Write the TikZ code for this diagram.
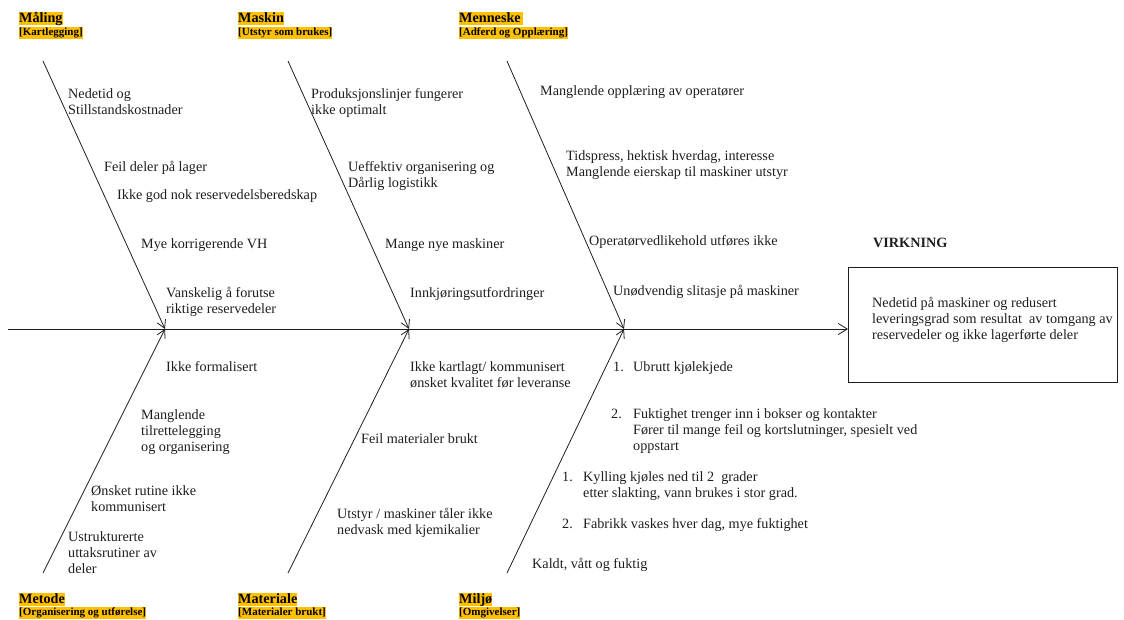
\documentclass[tikz,border=0pt]{standalone}
\usepackage{fontspec}
\setmainfont{Liberation Serif}
\usetikzlibrary{arrows.meta}
\definecolor{hl}{HTML}{FFC000}
\definecolor{ink}{HTML}{1E1E1E}
\tikzset{
  txt/.style={anchor=north west, inner sep=0pt, align=left, text=ink,
              font=\fontsize{14.2}{16.2}\selectfont},
  cat/.style={anchor=north west, inner sep=0pt, fill=hl, text=black,
              font=\fontsize{14.2}{16}\selectfont\bfseries,
              text height=10pt, text depth=3pt},
  sub/.style={anchor=north west, inner sep=0pt, fill=hl, text=black,
              font=\fontsize{11}{12}\selectfont\bfseries,
              text height=8.5pt, text depth=3.3pt},
  bone/.style={draw=ink, line width=0.8pt,
               -{Straight Barb[length=8pt,width=9pt,line width=0.8pt]}},
  effbox/.style={draw=ink, line width=0.8pt, minimum width=269pt,
                 minimum height=115pt, inner sep=0pt}
}
\begin{document}
\begin{tikzpicture}[x=1pt,y=-1pt]
\useasboundingbox (0,0) rectangle (1124,619);

% effect box
\node[effbox, anchor=north west] (eff) at (848,267) {};
\node[txt] (efftxt) at (872,297) {Nedetid på maskiner og redusert\\leveringsgrad som resultat\ \ av tomgang av\\reservedeler og ikke lagerførte deler};
\node[anchor=north west, inner sep=0pt, text=ink,
      font=\fontsize{14.2}{16}\selectfont\bfseries] (virk) at (873,238) {VIRKNING};

% spine
\coordinate (s0) at (8,329);
\coordinate (j1) at (165,329);
\coordinate (j2) at (409,329);
\coordinate (j3) at (624,329);
\draw[bone, -{Straight Barb[length=9pt,width=11pt,line width=0.8pt]}] (s0) -- (s0 -| eff.west);

% bones
\coordinate (tA) at (43,61);
\coordinate (tB) at (288,61);
\coordinate (tC) at (507,61);
\coordinate (bA) at (43,573);
\coordinate (bB) at (288,573);
\coordinate (bC) at (507,573);
\draw[bone] (tA) -- (j1);
\draw[bone] (tB) -- (j2);
\draw[bone] (tC) -- (j3);
\draw[bone] (bA) -- (j1);
\draw[bone] (bB) -- (j2);
\draw[bone] (bC) -- (j3);

% category labels
\node[cat] (maal) at (19,12) {Måling};
\node[sub] (maalS) at (19,27) {[Kartlegging]};
\node[cat] (mask) at (238,12) {Maskin};
\node[sub] (maskS) at (238,27) {[Utstyr som brukes]};
\node[cat] (menn) at (459,12) {Menneske\,};
\node[sub] (mennS) at (459,27) {[Adferd og Opplæring]};
\node[cat] (meto) at (19,593) {Metode};
\node[sub] (metoS) at (19,607) {[Organisering og utførelse]};
\node[cat] (mate) at (238,593) {Materiale};
\node[sub] (mateS) at (238,607) {[Materialer brukt]};
\node[cat] (milj) at (459,593) {Miljø};
\node[sub] (miljS) at (459,607) {[Omgivelser]};

% Måling
\node[txt] (a1) at (68,88) {Nedetid og\\Stillstandskostnader};
\node[txt] (a2) at (104,161) {Feil deler på lager};
\node[txt] (a3) at (117,189) {Ikke god nok reservedelsberedskap};
\node[txt] (a4) at (141,238) {Mye korrigerende VH};
\node[txt] (a5) at (166,287) {Vanskelig å forutse\\riktige reservedeler};

% Metode
\node[txt] (b1) at (166,361) {Ikke formalisert};
\node[txt] (b2) at (141,409) {Manglende\\tilrettelegging\\og organisering};
\node[txt] (b3) at (91,485) {Ønsket rutine ikke\\kommunisert};
\node[txt] (b4) at (68,531) {Ustrukturerte\\uttaksrutiner av\\deler};

% Maskin
\node[txt] (c1) at (311,88) {Produksjonslinjer fungerer\\ikke optimalt};
\node[txt] (c2) at (348,161) {Ueffektiv organisering og\\Dårlig logistikk};
\node[txt] (c3) at (385,238) {Mange nye maskiner};
\node[txt] (c4) at (410,287) {Innkjøringsutfordringer};

% Materiale
\node[txt] (d1) at (410,361) {Ikke kartlagt/ kommunisert\\ønsket kvalitet før leveranse};
\node[txt] (d2) at (361,433) {Feil materialer brukt};
\node[txt] (d3) at (337,508) {Utstyr / maskiner tåler ikke\\nedvask med kjemikalier};

% Menneske
\node[txt] (e1) at (540,85) {Manglende opplæring av operatører};
\node[txt] (e2) at (566,150) {Tidspress, hektisk hverdag, interesse\\Manglende eierskap til maskiner utstyr};
\node[txt] (e3) at (589,235) {Operatørvedlikehold utføres ikke};
\node[txt] (e4) at (613,285) {Unødvendig slitasje på maskiner};

% Miljø
\node[txt] (f1) at (613,361) {\makebox[20pt][l]{1.}Ubrutt kjølekjede};
\node[txt] (f2) at (611,408) {\makebox[22pt][l]{2.}Fuktighet trenger inn i bokser og kontakter\\\hspace*{22pt}Fører til mange feil og kortslutninger, spesielt ved\\\hspace*{22pt}oppstart};
\node[txt] (f3) at (562,471) {\makebox[21pt][l]{1.}Kylling kjøles ned til 2\ \ grader\\\hspace*{21pt}etter slakting, vann brukes i stor grad.};
\node[txt] (f4) at (562,518) {\makebox[21pt][l]{2.}Fabrikk vaskes hver dag, mye fuktighet};
\node[txt] (f5) at (532,558) {Kaldt, vått og fuktig};
\end{tikzpicture}
\end{document}
